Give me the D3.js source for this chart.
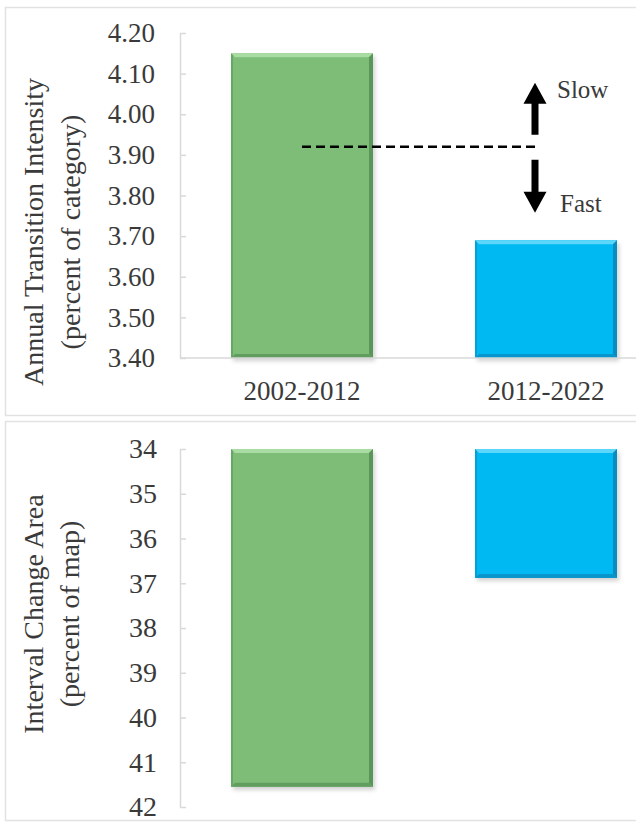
<!DOCTYPE html>
<html>
<head>
<meta charset="utf-8">
<script src="https://cdn.jsdelivr.net/npm/d3@7"></script>
<style>
  body { margin: 0; background: #fff; }
  svg text { font-family: 'Liberation Serif', Tinos, 'Times New Roman', 'DejaVu Serif', serif; fill: #3a3a3a; }
</style>
</head>
<body>
<svg id="chart-svg"></svg>
<script>
const width = 636
const height = 832
const serif = "'Liberation Serif', Tinos, 'Times New Roman', 'DejaVu Serif', serif"

// data
const periods = ['2002-2012', '2012-2022']
const intensity = [4.15, 3.69]
const uniformIntensity = 3.92
const changeArea = [41.55, 36.88]
const intensityTicks = [3.40, 3.50, 3.60, 3.70, 3.80, 3.90, 4.00, 4.10, 4.20]
const areaTicks = [34, 35, 36, 37, 38, 39, 40, 41, 42]

const fills = ['#7dbd78', '#05b9f2']
const lights = ['#a9dca2', '#5dd6fb']
const darks = ['#5b955a', '#0a8cc0']
const axisColor = '#d9d9d9'

const svg = d3.select('svg#chart-svg').attr('width', width).attr('height', height)

const defs = svg.append('defs')
defs.append('filter').attr('id', 'shadow').attr('x', '-10%').attr('y', '-10%').attr('width', '130%').attr('height', '130%')
  .append('feDropShadow')
  .attr('dx', 2).attr('dy', 3).attr('stdDeviation', 2)
  .attr('flood-color', '#000').attr('flood-opacity', 0.18)

// panel frames
svg.append('rect').attr('x', 5.5).attr('y', 7.5).attr('width', 660).attr('height', 408)
  .attr('fill', 'none').attr('stroke', '#e2e2e2').attr('stroke-width', 1.5)
svg.append('rect').attr('x', 5.5).attr('y', 421.5).attr('width', 660).attr('height', 399)
  .attr('fill', 'none').attr('stroke', '#e2e2e2').attr('stroke-width', 1.5)

const x = d3.scaleBand().domain(periods).range([180, 668])
  .paddingInner(0.418).paddingOuter(0.209)

const yTop = d3.scaleLinear().domain([3.4, 4.2]).range([358, 33])
const yBot = d3.scaleLinear().domain([34, 42]).range([449, 807])

function bevelBar(g, x0, y0, x1, y1, i) {
  const b = 4
  g.append('rect').attr('x', x0).attr('y', y0).attr('width', x1 - x0).attr('height', y1 - y0)
    .attr('fill', fills[i]).attr('filter', 'url(#shadow)')
  g.append('polygon')
    .attr('points', [[x0, y0], [x1, y0], [x1 - b, y0 + b], [x0 + b, y0 + b]].join(' '))
    .attr('fill', lights[i])
  g.append('polygon')
    .attr('points', [[x1, y0], [x1, y1], [x1 - b, y1 - b], [x1 - b, y0 + b]].join(' '))
    .attr('fill', darks[i])
  g.append('polygon')
    .attr('points', [[x0, y1], [x1, y1], [x1 - b, y1 - b], [x0 + b, y1 - b]].join(' '))
    .attr('fill', darks[i]).attr('opacity', 0.8)
  g.append('polygon')
    .attr('points', [[x0, y0], [x0 + 2, y0 + 2], [x0 + 2, y1 - 2], [x0, y1]].join(' '))
    .attr('fill', darks[i]).attr('opacity', 0.6)
}

function styleAxis(g) {
  g.attr('font-family', serif)
  g.selectAll('path.domain').attr('stroke', axisColor).attr('stroke-width', 1.5)
  g.selectAll('.tick line').attr('stroke', axisColor).attr('stroke-width', 1.5)
  g.selectAll('.tick text').attr('fill', '#3a3a3a').style('font-family', serif)
}

//////////////////////////////////////
// top panel
//////////////////////////////////////

const topPanel = svg.append('g')

const topAxis = topPanel.append('g').attr('transform', 'translate(180,0)')
  .call(d3.axisLeft(yTop).tickValues(intensityTicks).tickFormat(d3.format('.2f'))
    .tickSizeInner(-6).tickSizeOuter(0).tickPadding(25))
styleAxis(topAxis)
topAxis.selectAll('.tick text').style('font-size', '27px')

const barsTop = topPanel.append('g')
periods.forEach((p, i) => {
  bevelBar(barsTop, x(p), yTop(intensity[i]), x(p) + x.bandwidth(), yTop(3.4), i)
})

const catAxis = topPanel.append('g').attr('transform', `translate(0,${yTop(3.4)})`)
  .call(d3.axisBottom(x).tickSize(0).tickPadding(23))
catAxis.select('path.domain').attr('d', `M180,0H${width}`)
styleAxis(catAxis)
catAxis.selectAll('.tick text').style('font-size', '27px')

// uniform intensity line
const lineY = yTop(uniformIntensity)
const arrowX = x(periods[1]) + x.bandwidth() / 2 - 11
topPanel.append('line')
  .attr('x1', x(periods[0]) + x.bandwidth() / 2).attr('x2', arrowX + 5)
  .attr('y1', lineY).attr('y2', lineY)
  .attr('stroke', '#000').attr('stroke-width', 2.6).attr('stroke-dasharray', '9,5')

// slow / fast arrows
function arrow(x0, yStart, yTip) {
  const dir = yTip < yStart ? -1 : 1
  const headLen = 21
  const headW = 11.5
  const shaft = 3.5
  const yBase = yTip - dir * headLen
  const pts = [
    [x0 - shaft, yStart], [x0 - shaft, yBase], [x0 - headW, yBase], [x0, yTip],
    [x0 + headW, yBase], [x0 + shaft, yBase], [x0 + shaft, yStart]
  ]
  topPanel.append('polygon').attr('points', pts.join(' ')).attr('fill', '#000')
}
arrow(arrowX, lineY - 12, lineY - 64)
arrow(arrowX, lineY + 13, lineY + 66)

topPanel.append('text').attr('x', arrowX + 22).attr('y', lineY - 49)
  .style('font-size', '25px').text('Slow')
topPanel.append('text').attr('x', arrowX + 25).attr('y', lineY + 65)
  .style('font-size', '25px').text('Fast')

topPanel.append('text')
  .attr('transform', 'translate(33,232) rotate(-90)')
  .attr('text-anchor', 'middle').attr('dy', '0.35em')
  .style('font-size', '28px').text('Annual Transition Intensity')
topPanel.append('text')
  .attr('transform', 'translate(70,232) rotate(-90)')
  .attr('text-anchor', 'middle').attr('dy', '0.35em')
  .style('font-size', '28px').text('(percent of category)')

//////////////////////////////////////
// bottom panel
//////////////////////////////////////

const bottomPanel = svg.append('g')

const botAxis = bottomPanel.append('g').attr('transform', 'translate(180,0)')
  .call(d3.axisLeft(yBot).tickValues(areaTicks).tickFormat(d3.format('d'))
    .tickSizeInner(-6).tickSizeOuter(0).tickPadding(23))
styleAxis(botAxis)
botAxis.selectAll('.tick text').style('font-size', '28px')

const barsBot = bottomPanel.append('g')
periods.forEach((p, i) => {
  bevelBar(barsBot, x(p), yBot(34), x(p) + x.bandwidth(), yBot(changeArea[i]), i)
})

bottomPanel.append('text')
  .attr('transform', 'translate(33,614) rotate(-90)')
  .attr('text-anchor', 'middle').attr('dy', '0.35em')
  .style('font-size', '28px').text('Interval Change Area')
bottomPanel.append('text')
  .attr('transform', 'translate(69,614) rotate(-90)')
  .attr('text-anchor', 'middle').attr('dy', '0.35em')
  .style('font-size', '28px').text('(percent of map)')
</script>
</body>
</html>
